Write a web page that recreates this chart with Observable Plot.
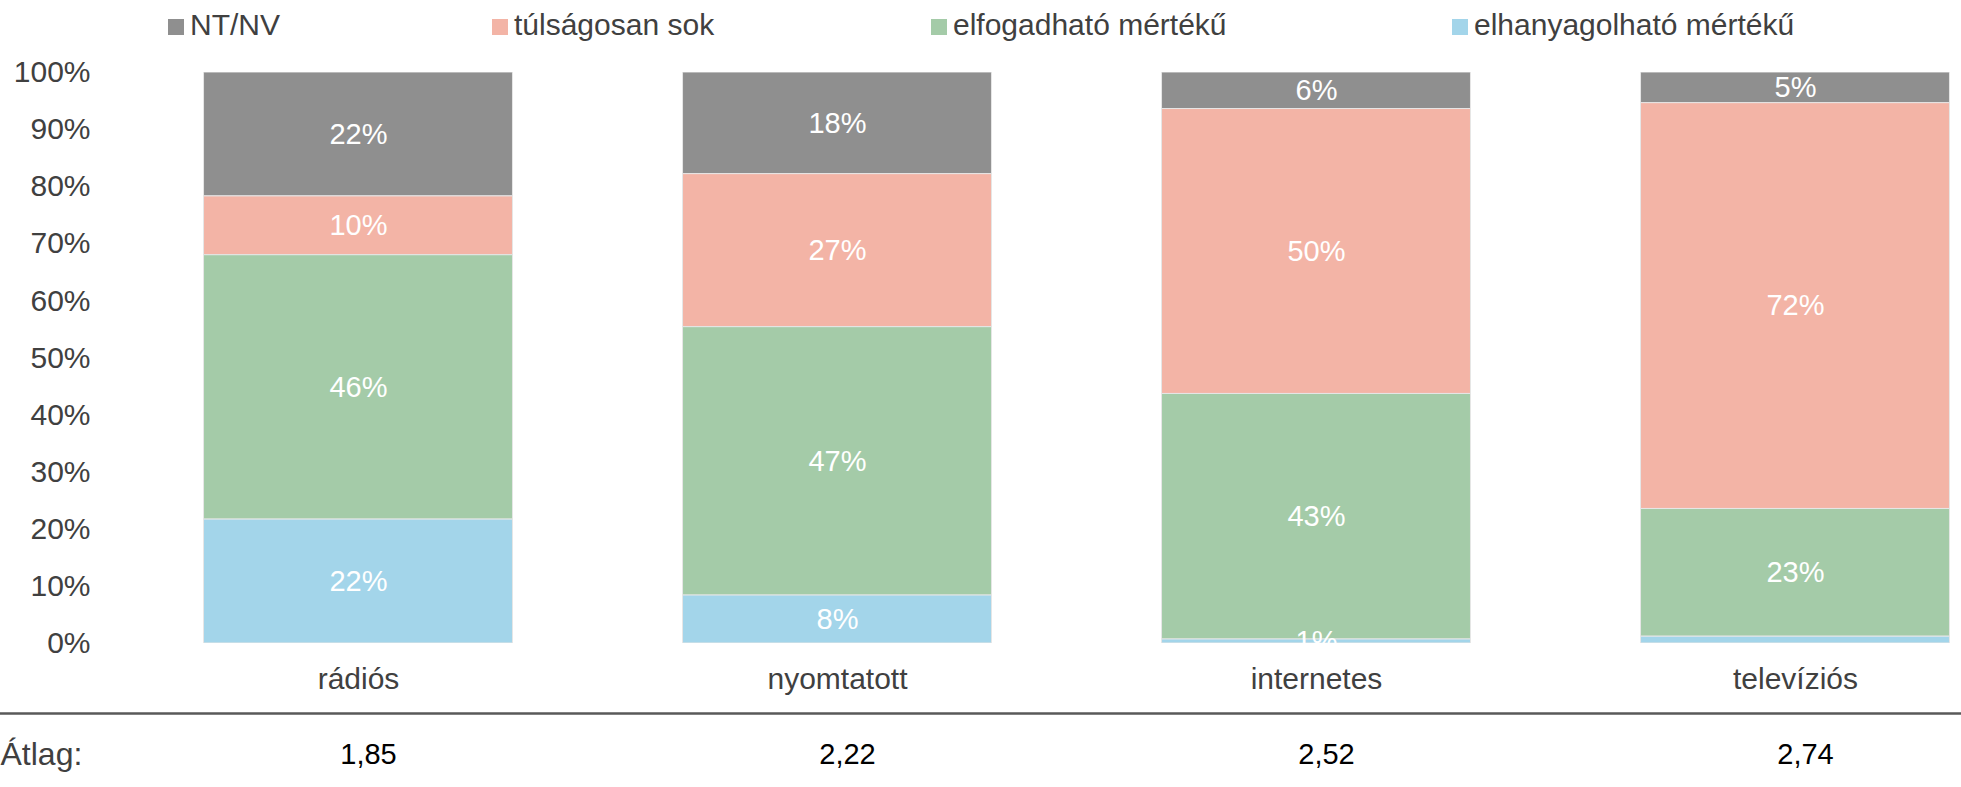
<!DOCTYPE html>
<html>
<head>
<meta charset="utf-8">
<script src="https://cdn.jsdelivr.net/npm/d3@7"></script>
<script src="https://cdn.jsdelivr.net/npm/@observablehq/plot@0.6"></script>
<style>
  html, body { margin: 0; padding: 0; background: #ffffff; }
  body { width: 1961px; font-family: "Liberation Sans", Arial, sans-serif; }
  #legend { position: relative; width: 1961px; height: 50px; overflow: hidden; }
  .item { position: absolute; top: 0; height: 50px; white-space: nowrap; }
  .sw { position: absolute; top: 19px; left: 0; width: 16px; height: 16px; }
  .lbl { position: absolute; left: 22px; top: 0; line-height: 50px; font-size: 30px; color: #404040; }
  #chart svg { display: block; }
</style>
</head>
<body>
<div id="legend"></div>
<div id="chart"></div>
<script>
// ---- data ----
const categories = ["rádiós", "nyomtatott", "internetes", "televíziós"];
const series = ["NT/NV", "túlságosan sok", "elfogadható mértékű", "elhanyagolható mértékű"];
const ntnv      = [21.7, 17.8,  6.4,  5.4];
const tulsagos  = [10.3, 26.8, 49.9, 71.5];
const elfogad   = [46.3, 47.0, 43.0, 22.5];
const elhanyag  = [21.7,  8.4,  0.7,  1.2];
const averages  = [1.85, 2.22, 2.52, 2.74];
const yTicks    = [0, 0.1, 0.2, 0.3, 0.4, 0.5, 0.6, 0.7, 0.8, 0.9, 1];
const hiddenLabels = [["televíziós", "elhanyagolható mértékű"]];

// ---- styles ----
const colors = ["#8f8f8f", "#f3b4a6", "#a4cba8", "#a3d5ea"];
const legendLeft = [168, 492, 931, 1452];
const FONT = "'Liberation Sans', Arial, sans-serif";

const seriesValues = [ntnv, tulsagos, elfogad, elhanyag];
const rows = [];
series.forEach((s, si) => {
  categories.forEach((c, ci) => {
    rows.push({cat: c, series: s, value: seriesValues[si][ci]});
  });
});
const stackOrder = [series[3], series[2], series[1], series[0]];
const isHidden = d => hiddenLabels.some(([c, s]) => c === d.cat && s === d.series);
const avgRows = categories.map((c, i) => ({cat: c, avg: averages[i]}));

// legend
const legend = document.getElementById("legend");
series.forEach((s, i) => {
  const item = document.createElement("div");
  item.className = "item";
  item.style.left = legendLeft[i] + "px";
  const sw = document.createElement("div");
  sw.className = "sw";
  sw.style.background = colors[i];
  const lbl = document.createElement("div");
  lbl.className = "lbl";
  lbl.textContent = s;
  item.appendChild(sw);
  item.appendChild(lbl);
  legend.appendChild(item);
});

const chart = Plot.plot({
  width: 1961,
  height: 737,
  marginTop: 22,
  marginBottom: 144,
  marginLeft: 0,
  marginRight: 0,
  style: {fontFamily: FONT, fontSize: "30px", background: "#ffffff", overflow: "visible"},
  x: {domain: categories, range: [118.5, 2034.5], paddingInner: 0.355, paddingOuter: 0.1775, round: false, axis: null},
  y: {domain: [0, 1], axis: null},
  color: {domain: series, range: colors},
  marks: [
    Plot.barY(rows, Plot.stackY({
      x: "cat", y: "value", z: "series", fill: "series",
      order: stackOrder, offset: "normalize",
      stroke: "#e6e6e6", strokeWidth: 1, clip: true
    })),
    Plot.text(rows, Plot.stackY({
      x: "cat", y: "value", z: "series",
      order: stackOrder, offset: "normalize",
      text: d => isHidden(d) ? "" : Math.round(d.value) + "%",
      fill: "white", fontSize: 29, lineAnchor: "middle", clip: true
    })),
    Plot.axisY({
      anchor: "left", ticks: yTicks, tickSize: 0, tickPadding: 0, dx: 90,
      tickFormat: d => Math.round(d * 100) + "%",
      fontSize: 30, fill: "#404040", label: null
    }),
    Plot.text(categories, {
      x: d => d, frameAnchor: "bottom", dy: 36, lineAnchor: "middle",
      fontSize: 30, fill: "#404040"
    }),
    Plot.ruleY([0], {dy: 70, stroke: "#595959", strokeWidth: 2.5}),
    Plot.text(["Átlag:"], {
      frameAnchor: "bottom-left", dy: 111, dx: 0, textAnchor: "start", lineAnchor: "middle",
      fontSize: 32, fill: "#404040"
    }),
    Plot.text(avgRows, {
      x: "cat", frameAnchor: "bottom", dy: 111, dx: 10, lineAnchor: "middle",
      text: d => d.avg.toFixed(2).replace(".", ","),
      fontSize: 29, fill: "#000000"
    })
  ]
});
document.getElementById("chart").appendChild(chart);
</script>
</body>
</html>
